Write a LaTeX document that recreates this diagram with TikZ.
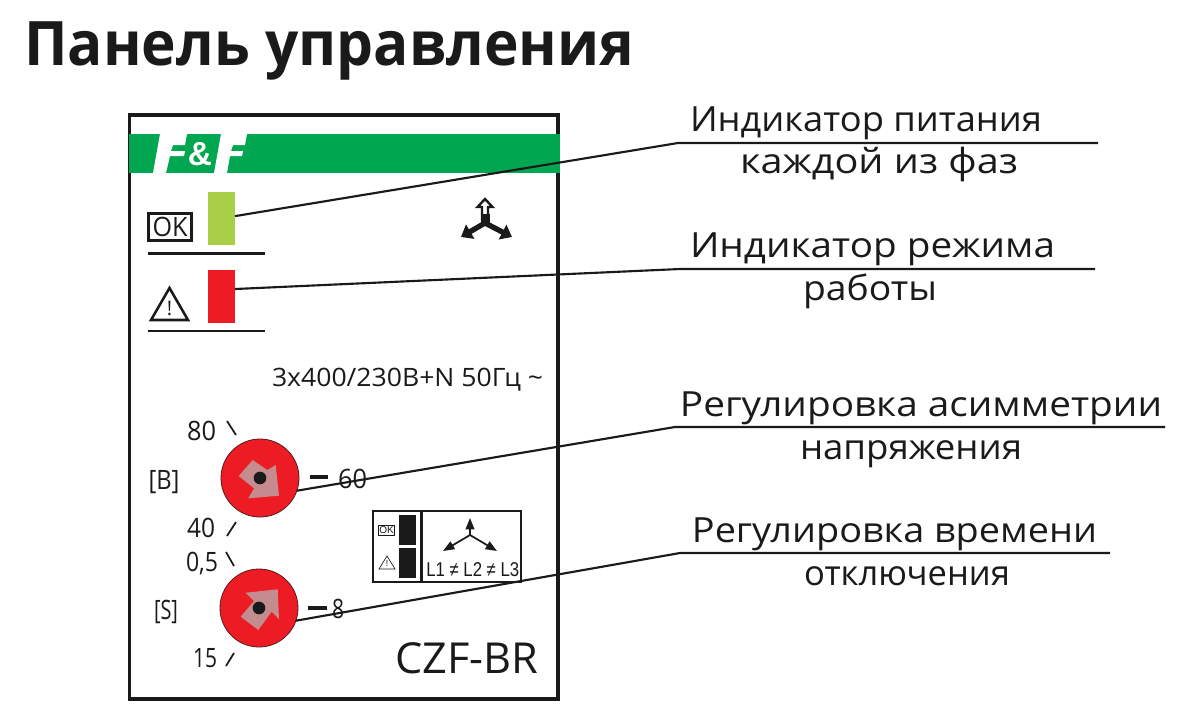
\documentclass[tikz,border=0pt]{standalone}
\usepackage{graphicx}
\usepackage{fontspec}
\setmainfont{Open Sans}
\newfontfamily\lab{Open Sans}
\newfontfamily\arialf{Liberation Sans}
\usetikzlibrary{arrows.meta}
\newcommand{\fw}[2]{\resizebox{\dimexpr #1pt*3/4\relax}{\height}{#2}}
\definecolor{ink}{HTML}{1A1A1A}
\definecolor{band}{HTML}{00A650}
\definecolor{ledg}{HTML}{A8CF45}
\definecolor{ledr}{HTML}{ED1C24}
\definecolor{ptr}{HTML}{C48C8E}
\tikzset{
  x=0.75pt,y=-0.75pt,
  lbl/.style={inner sep=0,outer sep=0,anchor=base,font=\lab\fontsize{26}{30}\selectfont,text=ink},
  panel/.style={inner sep=0,outer sep=0,anchor=base,font=\lab\fontsize{20}{22}\selectfont,text=ink},
  leader/.style={draw=ink,line width=1.6pt},
  rulel/.style={draw=ink,line width=2.1pt},
  tick/.style={draw=ink,line width=1.3pt},
  dashm/.style={draw=ink,line width=2.6pt},
  led/.style={inner sep=0,outer sep=0,minimum width=20.25pt,minimum height=39.75pt},
  knob/.style={circle,fill=ledr,draw=ink!70!ledr,line width=0.6pt,inner sep=0,outer sep=0,minimum size=58.5pt},
  dotk/.style={circle,fill=ink,inner sep=0,minimum size=9.5pt},
}
\begin{document}
\begin{tikzpicture}
\useasboundingbox (0,0) rectangle (1180,717);
\fill[white] (0,0) rectangle (1180,717);
% title
\node[inner sep=0,anchor=base west,font=\fontsize{46}{52}\selectfont\bfseries,text=ink] (title) at (24,65) {\fw{610}{Панель управления}};
% frame and band
\draw[draw=ink,line width=2.4pt] (129.5,115) rectangle (558,699);
\fill[band] (128.5,134) rectangle (559.5,173);
\fill[white] (160,134) -- (187,134) -- (185,145) -- (173,145) -- (171,151) -- (185,151) -- (184,156) -- (170,156) -- (166,173) -- (153,173) -- cycle;
\fill[white] (221,134) -- (247,134) -- (245,145) -- (233,145) -- (231,151) -- (243,151) -- (242,156) -- (230,156) -- (227,173) -- (214,173) -- cycle;
\node[inner sep=0,font=\arialf\bfseries\fontsize{25}{27}\selectfont,text=white] (amp) at (200,154) {\&};
% LEDs
\node[led,fill=ledg] (ok) at (221.5,218.5) {};
\node[led,fill=ledr] (warn) at (221.5,296.5) {};
\draw[rulel] (148,253.5) -- (265,253.5);
\draw[rulel] (148,331) -- (265,331);
\node[draw=ink,line width=2.4pt,inner sep=0,minimum width=32pt,minimum height=20pt,font=\lab\fontsize{20}{20}\selectfont,text=ink] (okbox) at (170,227) {\fw{35}{OK}};
\draw[ink,line width=1.9pt,line join=miter] (151,320) -- (188,320) -- (169.5,288) -- cycle;
\node[inner sep=0,font=\fontsize{15}{15}\selectfont,text=ink] (excl) at (169.5,308) {!};
% phase symbol
\draw[ink,line width=4pt,-{Triangle[length=8pt,width=12pt]}] (485,223) -- (461,237);
\draw[ink,line width=4pt,-{Triangle[length=8pt,width=12pt]}] (485,223) -- (512,237);
\draw[ink,fill=white,line width=1.8pt] (485,199) -- (477.5,207) -- (482,207) -- (482,220) -- (488,220) -- (488,207) -- (492.5,207) -- cycle;
\fill[ink] (480.5,214) rectangle (489.5,226);
% spec text
\node[panel,font=\lab\fontsize{19}{21}\selectfont,anchor=base west] (spec) at (272,386) {\fw{271}{3x400/230В+N 50Гц \textasciitilde}};
% knob 1
\node[knob] (k1) at (260,478) {};
\fill[ptr] (252.7,460) -- (267.3,470) -- (275.7,465) -- (279,495.7) -- (248.3,498.3) -- (254,488.3) -- (238.7,476) -- cycle;
\node[dotk] (d1) at (260,478) {};
\node[panel] (t80) at (201.5,440) {\fw{29}{80}};
\draw[tick] (227,421) -- (236,435);
\node[panel] (tb) at (164,489) {\fw{31}{[В]}};
\draw[dashm] (310,477) -- (328,477);
\node[panel] (t60) at (352.5,488) {\fw{29}{60}};
\node[panel] (t40) at (201,537) {\fw{28}{40}};
\draw[tick] (236,522) -- (227,536);
% knob 2
\node[knob] (k2) at (259,608) {};
\fill[ptr] (245.7,592.7) -- (277.7,589.3) -- (279,619.3) -- (271.7,611.7) -- (258.3,630) -- (240.7,616.7) -- (254,601) -- cycle;
\node[dotk] (d2) at (259,608) {};
\node[panel] (t05) at (202,571) {\fw{32}{0,5}};
\draw[tick] (226,552) -- (234,566);
\node[panel] (ts) at (166,619) {\fw{24}{[S]}};
\draw[dashm] (308,608) -- (327,608);
\node[panel] (t8) at (338,618) {\fw{12}{8}};
\node[panel] (t15) at (205,667) {\fw{24}{15}};
\draw[tick] (234,653) -- (226,666);
% mini panel
\draw[ink,line width=2.2pt] (373,511) rectangle (521,582);
\draw[ink,line width=2.4pt] (421.5,511) -- (421.5,582);
\node[inner sep=0,outer sep=0,fill=ink,minimum width=12.75pt,minimum height=22.5pt] (m1) at (407.5,530) {};
\node[inner sep=0,outer sep=0,fill=ink,minimum width=12.75pt,minimum height=22.5pt] (m2) at (407.5,563) {};
\node[draw=ink,line width=0.6pt,inner sep=0,minimum width=12.5pt,minimum height=7.5pt,font=\arialf\fontsize{7.5}{8}\selectfont,text=ink] (mok) at (386.5,530) {OK};
\draw[ink,line width=0.5pt] (379,569) -- (395,569) -- (387,556) -- cycle;
\node[inner sep=0,font=\arialf\fontsize{6.5}{7}\selectfont,text=ink] (mex) at (387,564) {!};
\draw[ink,line width=1.3pt,-{Triangle[length=8.5pt,width=6.5pt]}] (470,535) -- (470,518);
\draw[ink,line width=1.3pt,-{Triangle[length=8.5pt,width=6.5pt]}] (470,535) -- (443,551);
\draw[ink,line width=1.3pt,-{Triangle[length=8.5pt,width=6.5pt]}] (470,535) -- (497,551);
\node[inner sep=0,anchor=base west,font=\arialf\fontsize{15}{16}\selectfont,text=ink] (ml) at (426,576) {\fw{93}{L1 ≠ L2 ≠ L3}};
% model
\node[panel,font=\lab\fontsize{32}{36}\selectfont,anchor=base west] (model) at (395,673) {\fw{143}{CZF-BR}};
% callout coordinates
\coordinate (a1) at (678,143); \coordinate (b1) at (1098,143);
\coordinate (a2) at (680,269); \coordinate (b2) at (1095,269);
\coordinate (a3) at (675,427); \coordinate (b3) at (1165,427);
\coordinate (a4) at (680,553); \coordinate (b4) at (1110,553);
\draw[leader] (ok.10) -- (a1) -- (b1);
\draw[leader] (warn.29) -- (a2) -- (b2);
\draw[leader] (k1.-19) -- (a3) -- (b3);
\draw[leader] (k2.-19) -- (a4) -- (b4);
% labels
\node[lbl] (l1a) at (866,131) {\fw{352}{Индикатор питания}};
\node[lbl] (l1b) at (879,173) {\fw{278}{каждой из фаз}};
\node[lbl] (l2a) at (872.5,257) {\fw{365}{Индикатор режима}};
\node[lbl] (l2b) at (870,300) {\fw{134}{работы}};
\node[lbl] (l3a) at (921,416) {\fw{482}{Регулировка асимметрии}};
\node[lbl] (l3b) at (911,459) {\fw{222}{напряжения}};
\node[lbl] (l4a) at (894.5,542) {\fw{405}{Регулировка времени}};
\node[lbl] (l4b) at (907,585) {\fw{206}{отключения}};
\end{tikzpicture}
\end{document}
